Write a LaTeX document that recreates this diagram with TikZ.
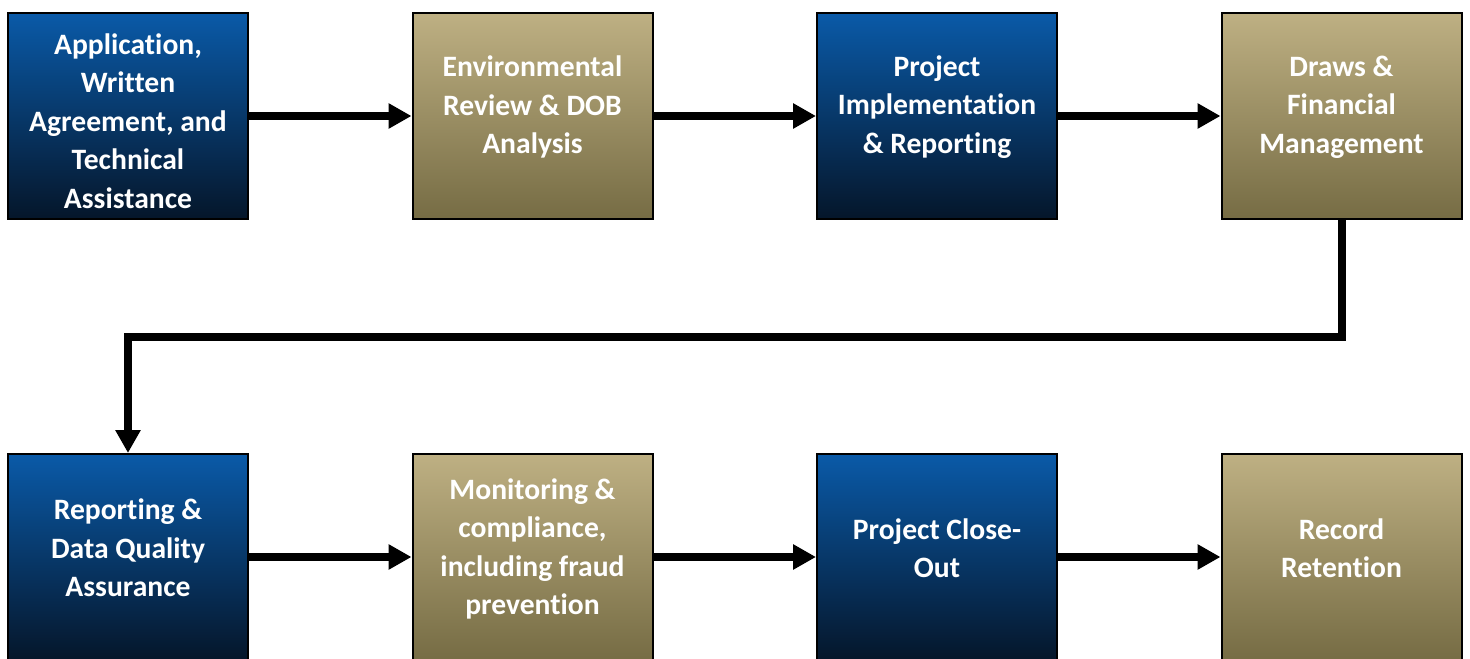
\documentclass[tikz,border=0pt]{standalone}
\usepackage{fontspec}
\setmainfont[Ligatures={NoCommon}]{Carlito}
\usepackage{tikz}
\usetikzlibrary{arrows.meta}
\usetikzlibrary{calc}

\definecolor{blueTop}{RGB}{10,90,168}
\definecolor{blueMid}{RGB}{7,60,118}
\definecolor{blueBot}{RGB}{5,22,42}
\definecolor{goldTop}{RGB}{190,176,131}
\definecolor{goldMid}{RGB}{160,148,106}
\definecolor{goldBot}{RGB}{118,108,68}

\begin{document}
\begin{tikzpicture}[x=0.5pt, y=-0.5pt,
                stage/.style={draw=black, line width=1pt, minimum width=120pt, minimum height=103pt, inner sep=0pt},
                bluestage/.style={stage, top color=blueTop, middle color=blueMid, bottom color=blueBot},
                goldstage/.style={stage, top color=goldTop, middle color=goldMid, bottom color=goldBot},
                caption/.style={align=center, text=white, font=\bfseries\fontsize{14.8}{19.25}\selectfont},
                flow/.style={line width=4pt, -{Triangle[length=11.5pt, width=12pt]}}]
                \clip (0, 0) rectangle (1470, 658);
                \node[bluestage] (s1) at (128, 116) {};
                \node[goldstage] (s2) at (532.5, 116) {};
                \node[bluestage] (s3) at (937, 116) {};
                \node[goldstage] (s4) at (1341.5, 116) {};
                \node[bluestage] (s5) at (128, 557) {};
                \node[goldstage] (s6) at (532.5, 557) {};
                \node[bluestage] (s7) at (937, 557) {};
                \node[goldstage] (s8) at (1341.5, 557) {};
                \node[caption] (t1) at (128, 121) {Application,\\Written\\Agreement, and\\Technical\\Assistance};
                \node[caption] (t2) at (532.5, 107) {Environmental\\Review \& DOB\\Analysis};
                \node[caption] (t3) at (937, 107) {Project\\Implementation\\\& Reporting};
                \node[caption] (t4) at (1341.5, 107) {Draws \&\\Financial\\Management};
                \node[caption] (t5) at (128, 548) {Reporting \&\\Data Quality\\Assurance};
                \node[caption] (t6) at (532.5, 549) {Monitoring \&\\compliance,\\including fraud\\prevention};
                \node[caption] (t7) at (937, 548) {Project Close-\\Out};
                \node[caption] (t8) at (1341.5, 548) {Record\\Retention};
                \coordinate (turn) at (128, 337);
                \draw[flow] (s1) -- (s2);
                \draw[flow] (s2) -- (s3);
                \draw[flow] (s3) -- (s4);
                \draw[flow] (s4.south) |- (turn) -- (s5.north);
                \draw[flow] (s5) -- (s6);
                \draw[flow] (s6) -- (s7);
                \draw[flow] (s7) -- (s8);
        \end{tikzpicture}
\end{document}
